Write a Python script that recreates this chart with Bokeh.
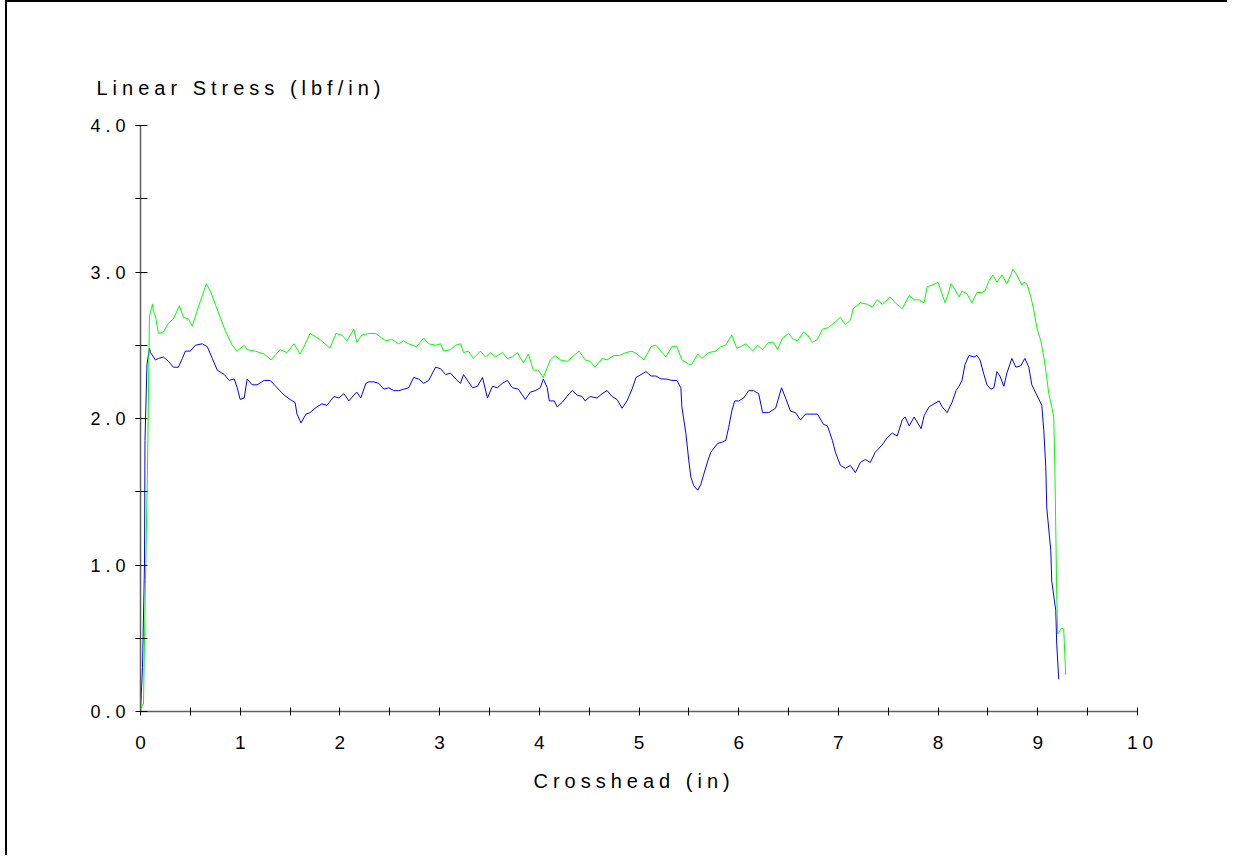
from bokeh.plotting import figure
from bokeh.models import FixedTicker, PrintfTickFormatter, Range1d, InlineStyleSheet, Title
from bokeh.embed import file_html
from bokeh.resources import INLINE

# ---- data ----
blue_x = [0.00, 0.02, 0.04, 0.045, 0.065, 0.09, 0.10, 0.15, 0.18, 0.23, 0.28, 0.33, 0.38, 0.42, 0.45,
          0.50, 0.55, 0.62, 0.67, 0.72, 0.77, 0.84, 0.89, 0.94, 0.97, 1.00, 1.04, 1.07, 1.12, 1.17,
          1.24, 1.30, 1.37, 1.44, 1.50, 1.55, 1.57, 1.61, 1.66, 1.70, 1.77, 1.82, 1.87, 1.94, 1.99,
          2.04, 2.09, 2.14, 2.17, 2.21, 2.26, 2.29, 2.34, 2.39, 2.44, 2.49, 2.54, 2.59, 2.64, 2.69,
          2.74, 2.79, 2.84, 2.89, 2.96, 3.01, 3.06, 3.11, 3.16, 3.21, 3.24, 3.29, 3.33, 3.38, 3.43,
          3.48, 3.53, 3.58, 3.63, 3.68, 3.73, 3.79, 3.86, 3.91, 3.96, 4.01, 4.04, 4.08, 4.10, 4.15,
          4.18, 4.23, 4.30, 4.33, 4.38, 4.43, 4.46, 4.51, 4.58, 4.63, 4.68, 4.73, 4.78, 4.83, 4.88,
          4.93, 4.97, 5.02, 5.07, 5.12, 5.17, 5.22, 5.27, 5.33, 5.38, 5.42, 5.43, 5.47, 5.50, 5.52,
          5.55, 5.59, 5.62, 5.65, 5.69, 5.72, 5.79, 5.84, 5.87, 5.90, 5.93, 5.96, 6.00, 6.05, 6.10,
          6.15, 6.20, 6.24, 6.30, 6.37, 6.40, 6.43, 6.47, 6.52, 6.57, 6.62, 6.67, 6.72, 6.79, 6.85,
          6.89, 6.94, 6.97, 7.02, 7.07, 7.12, 7.17, 7.22, 7.27, 7.32, 7.37, 7.44, 7.49, 7.54, 7.59,
          7.64, 7.67, 7.71, 7.76, 7.83, 7.86, 7.91, 7.96, 8.01, 8.04, 8.09, 8.14, 8.18, 8.21, 8.24,
          8.27, 8.31, 8.36, 8.39, 8.42, 8.46, 8.49, 8.53, 8.56, 8.59, 8.62, 8.66, 8.69, 8.74, 8.78,
          8.83, 8.87, 8.91, 8.94, 8.99, 9.04, 9.06, 9.08, 9.09, 9.13, 9.14, 9.18, 9.19, 9.21]
blue_y = [0.00, 0.30, 1.00, 1.85, 2.37, 2.48, 2.45, 2.40, 2.41, 2.42, 2.39, 2.35, 2.35, 2.41, 2.46,
          2.46, 2.50, 2.51, 2.49, 2.41, 2.33, 2.30, 2.26, 2.27, 2.21, 2.13, 2.14, 2.27, 2.23, 2.23,
          2.26, 2.26, 2.21, 2.16, 2.13, 2.11, 2.03, 1.97, 2.03, 2.04, 2.08, 2.10, 2.09, 2.15, 2.14,
          2.17, 2.12, 2.16, 2.18, 2.14, 2.24, 2.25, 2.25, 2.24, 2.20, 2.21, 2.19, 2.19, 2.20, 2.21,
          2.28, 2.27, 2.24, 2.26, 2.35, 2.34, 2.30, 2.31, 2.27, 2.24, 2.30, 2.25, 2.21, 2.22, 2.28,
          2.14, 2.22, 2.21, 2.24, 2.26, 2.21, 2.20, 2.13, 2.18, 2.19, 2.21, 2.27, 2.21, 2.12, 2.12,
          2.08, 2.11, 2.17, 2.19, 2.16, 2.15, 2.12, 2.15, 2.14, 2.17, 2.19, 2.15, 2.13, 2.07, 2.12,
          2.20, 2.28, 2.30, 2.32, 2.29, 2.29, 2.27, 2.27, 2.26, 2.26, 2.21, 2.08, 1.90, 1.71, 1.60,
          1.54, 1.51, 1.55, 1.62, 1.71, 1.77, 1.83, 1.84, 1.85, 1.94, 2.05, 2.12, 2.12, 2.14, 2.19,
          2.19, 2.17, 2.04, 2.04, 2.07, 2.14, 2.21, 2.14, 2.05, 2.04, 1.99, 2.03, 2.03, 2.03, 1.96,
          1.95, 1.85, 1.77, 1.68, 1.66, 1.68, 1.63, 1.70, 1.72, 1.70, 1.77, 1.82, 1.87, 1.90, 1.88,
          1.99, 2.01, 1.95, 2.01, 1.93, 2.02, 2.08, 2.10, 2.12, 2.08, 2.04, 2.11, 2.19, 2.22, 2.26,
          2.37, 2.43, 2.42, 2.43, 2.40, 2.30, 2.23, 2.20, 2.21, 2.32, 2.29, 2.22, 2.31, 2.41, 2.35,
          2.36, 2.41, 2.35, 2.23, 2.16, 2.09, 1.92, 1.67, 1.39, 1.10, 0.89, 0.69, 0.46, 0.22]

green_x = [0.00, 0.02, 0.03, 0.05, 0.07, 0.09, 0.12, 0.13, 0.15, 0.18, 0.23, 0.28, 0.33, 0.39, 0.43,
           0.48, 0.52, 0.57, 0.62, 0.66, 0.70, 0.75, 0.80, 0.85, 0.92, 0.97, 1.04, 1.07, 1.15, 1.24,
           1.31, 1.40, 1.47, 1.54, 1.60, 1.64, 1.70, 1.80, 1.90, 1.96, 2.02, 2.07, 2.14, 2.17, 2.22,
           2.29, 2.36, 2.42, 2.46, 2.52, 2.59, 2.64, 2.69, 2.77, 2.84, 2.89, 2.96, 3.01, 3.04, 3.11,
           3.16, 3.21, 3.24, 3.29, 3.34, 3.41, 3.46, 3.51, 3.56, 3.63, 3.68, 3.73, 3.78, 3.84, 3.89,
           3.94, 3.99, 4.04, 4.11, 4.16, 4.21, 4.28, 4.33, 4.40, 4.46, 4.51, 4.56, 4.63, 4.68, 4.75,
           4.80, 4.87, 4.93, 4.98, 5.05, 5.12, 5.17, 5.22, 5.27, 5.33, 5.38, 5.43, 5.50, 5.53, 5.59,
           5.63, 5.70, 5.77, 5.82, 5.87, 5.93, 5.98, 6.02, 6.07, 6.14, 6.19, 6.24, 6.30, 6.35, 6.39,
           6.44, 6.50, 6.55, 6.59, 6.65, 6.69, 6.74, 6.79, 6.84, 6.90, 6.97, 7.02, 7.07, 7.12, 7.15,
           7.22, 7.29, 7.34, 7.39, 7.44, 7.52, 7.57, 7.64, 7.71, 7.76, 7.81, 7.86, 7.89, 7.94, 8.00,
           8.04, 8.07, 8.11, 8.13, 8.17, 8.21, 8.24, 8.29, 8.34, 8.39, 8.44, 8.47, 8.51, 8.55, 8.59,
           8.64, 8.69, 8.73, 8.75, 8.79, 8.84, 8.86, 8.89, 8.93, 8.96, 8.99, 9.03, 9.06, 9.08, 9.11,
           9.14, 9.16, 9.17, 9.18, 9.19, 9.20, 9.22, 9.24, 9.26, 9.28]
green_y = [0.00, 0.05, 0.05, 0.90, 1.65, 2.70, 2.78, 2.73, 2.70, 2.58, 2.59, 2.65, 2.68, 2.77, 2.69,
           2.68, 2.63, 2.74, 2.84, 2.92, 2.87, 2.78, 2.69, 2.60, 2.50, 2.46, 2.50, 2.47, 2.46, 2.44,
           2.40, 2.47, 2.45, 2.51, 2.44, 2.49, 2.58, 2.54, 2.48, 2.58, 2.57, 2.53, 2.61, 2.52, 2.57,
           2.58, 2.58, 2.55, 2.53, 2.54, 2.51, 2.53, 2.51, 2.49, 2.55, 2.51, 2.50, 2.51, 2.46, 2.47,
           2.50, 2.51, 2.45, 2.46, 2.41, 2.46, 2.42, 2.45, 2.42, 2.45, 2.41, 2.42, 2.45, 2.38, 2.44,
           2.33, 2.33, 2.28, 2.40, 2.43, 2.40, 2.39, 2.42, 2.46, 2.40, 2.39, 2.35, 2.41, 2.40, 2.43,
           2.43, 2.45, 2.46, 2.44, 2.40, 2.49, 2.50, 2.46, 2.42, 2.49, 2.49, 2.40, 2.37, 2.37, 2.44,
           2.41, 2.45, 2.46, 2.49, 2.50, 2.57, 2.48, 2.49, 2.51, 2.46, 2.50, 2.47, 2.52, 2.52, 2.47,
           2.55, 2.58, 2.54, 2.53, 2.59, 2.57, 2.52, 2.54, 2.61, 2.62, 2.66, 2.69, 2.64, 2.67, 2.75,
           2.79, 2.78, 2.76, 2.81, 2.78, 2.83, 2.79, 2.75, 2.84, 2.81, 2.81, 2.79, 2.90, 2.91, 2.93,
           2.85, 2.79, 2.87, 2.92, 2.88, 2.83, 2.87, 2.85, 2.79, 2.86, 2.86, 2.87, 2.94, 2.98, 2.93,
           2.98, 2.92, 2.98, 3.02, 2.98, 2.91, 2.93, 2.92, 2.83, 2.74, 2.62, 2.53, 2.42, 2.33, 2.17,
           2.08, 2.01, 1.71, 1.26, 0.80, 0.53, 0.55, 0.57, 0.56, 0.25]

x_ticks = [0, 1, 2, 3, 4, 5, 6, 7, 8, 9, 10]
x_minor = [0.5, 1.5, 2.5, 3.5, 4.5, 5.5, 6.5, 7.5, 8.5, 9.5]
y_ticks = [0, 1, 2, 3, 4]
y_minor = [0.5, 1.5, 2.5, 3.5]
x_title = "Crosshead (in)"
y_title = "Linear Stress (lbf/in)"

FONT = "Liberation Sans"

p = figure(width=1222, height=855, output_backend="svg", toolbar_location=None,
           x_range=Range1d(0, 10), y_range=Range1d(0, 4),
           min_border_left=133, min_border_right=92, min_border_top=123, min_border_bottom=146,
           title=y_title)
p.styles = {"border-left": "2px solid black", "border-top": "2px solid black",
            "margin-left": "5px"}
p.stylesheets = [InlineStyleSheet(css=":host { letter-spacing: 5px; }")]

p.grid.visible = False
p.outline_line_color = None
p.background_fill_color = "white"
p.border_fill_color = "white"

p.title.align = "left"
p.title.offset = -44
p.title.standoff = 54
p.title.text_font = FONT
p.title.text_font_size = "20px"
p.title.text_font_style = "normal"
p.title.text_color = "black"

p.line(blue_x, blue_y, line_color="#0000FF", line_width=1)
p.line(green_x, green_y, line_color="#00FF00", line_width=1)

xa = p.xaxis[0]
xa.ticker = FixedTicker(ticks=x_ticks, minor_ticks=x_minor)
xa.axis_line_color = "#606060"
xa.axis_line_width = 1.5
xa.major_tick_line_color = "black"
xa.minor_tick_line_color = "black"
xa.major_tick_in = 4
xa.major_tick_out = 4
xa.minor_tick_in = 4
xa.minor_tick_out = 4
xa.major_label_text_font = FONT
xa.major_label_text_font_size = "19px"
xa.major_label_text_color = "black"
xa.major_label_standoff = 20

# x axis title (a below-title so that its left edge can be placed like the reference)
p.add_layout(Title(text=x_title, align="left", offset=393, standoff=33,
                   text_font=FONT, text_font_size="20px", text_font_style="normal",
                   text_color="black"), "below")

ya = p.yaxis[0]
ya.ticker = FixedTicker(ticks=y_ticks, minor_ticks=y_minor)
ya.formatter = PrintfTickFormatter(format="%.1f")
ya.axis_line_color = "#606060"
ya.axis_line_width = 1.5
ya.major_tick_line_color = "black"
ya.minor_tick_line_color = "black"
ya.major_tick_in = 7
ya.major_tick_out = 5
ya.minor_tick_in = 7
ya.minor_tick_out = 5
ya.major_label_text_font = FONT
ya.major_label_text_font_size = "18px"
ya.major_label_text_color = "black"
ya.major_label_standoff = 20

open("out.html", "w").write(file_html(p, INLINE))
